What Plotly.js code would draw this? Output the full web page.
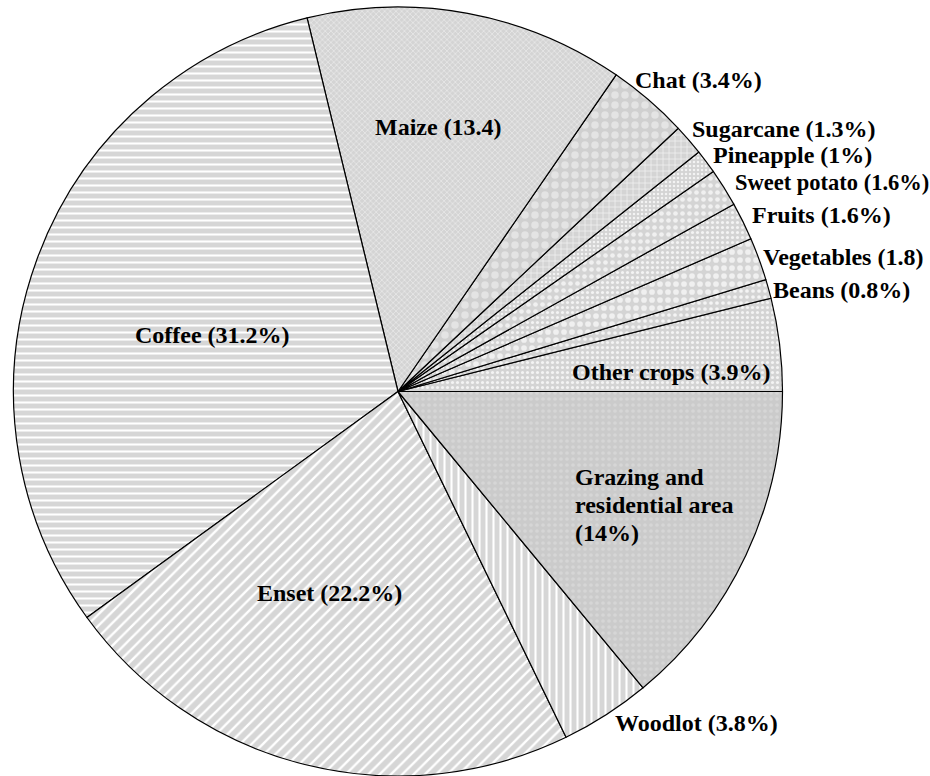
<!DOCTYPE html>
<html><head><meta charset="utf-8">
<script src="https://cdn.plot.ly/plotly-3.0.1.min.js"></script>
<style>html,body{margin:0;padding:0;background:#fff}</style>
</head><body><div id="chart" style="width:930px;height:776px"></div>
<script>
const categories = ["Other crops","Beans","Vegetables","Fruits","Sweet potato","Pineapple","Sugarcane","Chat","Maize","Coffee","Enset","Woodlot","Grazing and residential area"];
const values = [3.9,0.8,1.8,1.6,1.6,1.0,1.3,3.4,13.4,31.2,22.2,3.8,14.0];
const labelLines = [["Other crops (3.9%)"],["Beans (0.8%)"],["Vegetables (1.8)"],["Fruits (1.6%)"],["Sweet potato (1.6%)"],["Pineapple (1%)"],["Sugarcane (1.3%)"],["Chat (3.4%)"],["Maize (13.4)"],["Coffee (31.2%)"],["Enset (22.2%)"],["Woodlot (3.8%)"],["Grazing and","residential area","(14%)"]];

const shapes = ['.','.','.','.','.','.','+','.','x','-','/','|','.'];
const bg = ['#d4d4d4','#d4d4d4','#d4d4d4','#d4d4d4','#d4d4d4','#d4d4d4','#d4d4d4','#d0d0d0','#d4d4d4','#d6d6d6','#d6d6d6','#d6d6d6','#cbcbcb'];
const fg = ['#f4f4f4','#f4f4f4','#f0f0f0','#f4f4f4','#f0f0f0','#f4f4f4','#f6f6f6','#e4e4e4','#ececec','#ffffff','#ffffff','#ffffff','#d6d6d6'];
const sizes = [5,6,8,5,7,4,6,10,4,7,8,7,6];
const solid = [0.3,0.3,0.4,0.3,0.35,0.3,0.2,0.45,0.3,0.3,0.3,0.3,0.3];

// first slice's leading edge sits at 3 o'clock, slices run counterclockwise
const startRotation = 90 - values[0] / values.reduce((a,b)=>a+b,0) * 360;

const trace = {
  type:'pie', values: values, labels: categories, sort:false,
  direction:'counterclockwise', rotation:startRotation,
  textinfo:'none', hoverinfo:'label+value',
  domain:{x:[0.01452,0.8414], y:[0,0.99098]},
  marker:{colors:bg, line:{color:'#000', width:1.2},
    pattern:{shape:shapes, bgcolor:bg, fgcolor:fg, size:sizes, solidity:solid, fillmode:'replace'}}
};

// label placements: pixel left edge and vertical middle of first line
const labelPx = [[570,372],[771,290],[761,257],[750,215],[733,182],[711,155],[690,129],[633,80],[373,127],[133,335],[255,593],[613,723],[573,477]];
const labelSize = [24,24,24,24,22.5,24,24,24,24,24,24,24,24];
const lineGap = 28;
const annotations = [];
labelLines.forEach((lines,i)=>{
  lines.forEach((t,j)=>{
    annotations.push({
      text:t, x:labelPx[i][0]/930, y:1-(labelPx[i][1]+j*lineGap)/776, xref:'paper', yref:'paper',
      xanchor:'left', yanchor:'middle', align:'left', showarrow:false,
      font:{family:'Liberation Serif, Times New Roman, serif', size:labelSize[i], color:'#000', weight:'bold'}
    });
  });
});

Plotly.newPlot('chart',[trace],{
  width:930, height:776, margin:{l:0,r:0,t:0,b:0},
  paper_bgcolor:'#fff', showlegend:false, annotations:annotations
},{staticPlot:true});
</script></body></html>
